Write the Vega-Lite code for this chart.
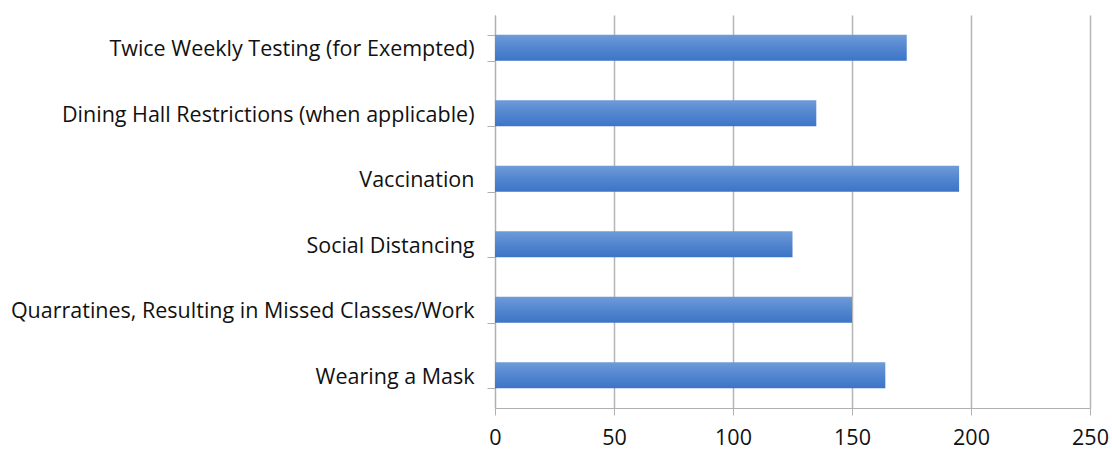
{
  "$schema": "https://vega.github.io/schema/vega-lite/v6.json",
  "autosize": {"type": "none"},
  "width": 595,
  "height": 393,
  "padding": {"left": 495, "top": 15, "right": 22, "bottom": 41},
  "background": "white",
  "config": {"view": {"stroke": null}},
  "data": {"values": [
    {"item": "Twice Weekly Testing (for Exempted)", "count": 173},
    {"item": "Dining Hall Restrictions (when applicable)", "count": 135},
    {"item": "Vaccination", "count": 195},
    {"item": "Social Distancing", "count": 125},
    {"item": "Quarratines, Resulting in Missed Classes/Work", "count": 150},
    {"item": "Wearing a Mask", "count": 164}
  ]},
  "mark": {
    "type": "bar",
    "color": {"gradient": "linear", "x1": 0, "y1": 0, "x2": 0, "y2": 1,
      "stops": [{"offset": 0, "color": "#6F9BD8"}, {"offset": 0.5, "color": "#5386D0"}, {"offset": 1, "color": "#3C74C6"}]}
  },
  "encoding": {
    "y": {
      "field": "item", "type": "nominal", "sort": null, "title": null,
      "scale": {"paddingInner": 0.6, "paddingOuter": 0.3},
      "axis": {
        "tickBand": "extent", "grid": false, "domainColor": "#B0B0B0", "tickColor": "#B0B0B0",
        "tickSize": 8, "labelPadding": 13, "labelFontSize": 21.5, "labelFont": "Open Sans",
        "labelColor": "#111111", "labelLimit": 600, "labelOffset": 2
      }
    },
    "x": {
      "field": "count", "type": "quantitative", "title": null,
      "scale": {"domain": [0, 250], "nice": false},
      "axis": {
        "values": [0, 50, 100, 150, 200, 250], "grid": true, "gridColor": "#B5B5B5", "gridWidth": 1.5,
        "domainColor": "#B0B0B0", "tickColor": "#B0B0B0", "tickSize": 7, "labelPadding": 12,
        "labelFontSize": 21.5, "labelFont": "Open Sans", "labelColor": "#111111", "labelFlush": false
      }
    }
  }
}
